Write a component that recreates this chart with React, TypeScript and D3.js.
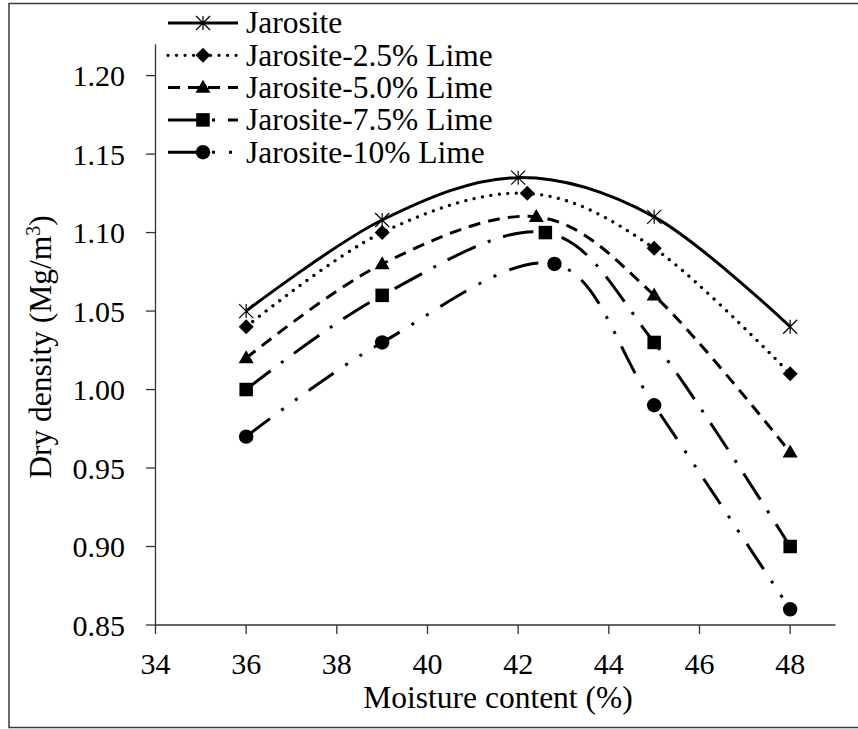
import React from "react";
import * as d3 from "d3";

const seriesNames = [
  "Jarosite",
  "Jarosite-2.5% Lime",
  "Jarosite-5.0% Lime",
  "Jarosite-7.5% Lime",
  "Jarosite-10% Lime",
];
const moistureJ = [36, 39, 42, 45, 48];
const densityJ = [1.05, 1.108, 1.135, 1.11, 1.04];
const moisture25 = [36, 39, 42.2, 45, 48];
const density25 = [1.04, 1.1, 1.125, 1.09, 1.01];
const moisture50 = [36, 39, 42.4, 45, 48];
const density50 = [1.02, 1.08, 1.11, 1.06, 0.96];
const moisture75 = [36, 39, 42.6, 45, 48];
const density75 = [1.0, 1.06, 1.1, 1.03, 0.9];
const moisture10 = [36, 39, 42.8, 45, 48];
const density10 = [0.97, 1.03, 1.08, 0.99, 0.86];

const xTicks = [34, 36, 38, 40, 42, 44, 46, 48];
const yTicks = [0.85, 0.9, 0.95, 1.0, 1.05, 1.1, 1.15, 1.2];

const seriesX = [moistureJ, moisture25, moisture50, moisture75, moisture10];
const seriesY = [densityJ, density25, density50, density75, density10];

const markerTypes = ["asterisk", "diamond", "triangle", "square", "circle"];
const dashes = ["none", "0.01 8.5", "12 8", "31 13 3 13", "30 14 3 14 3 14"];
const caps = ["butt", "round", "butt", "butt", "butt"];

const FONT = "Liberation Serif, Times New Roman, serif";

function Marker({ type, x, y }: { type: string; x: number; y: number }) {
  if (type === "asterisk") {
    const r = 7;
    return (
      <path
        d={`M${x},${y - r}L${x},${y + r}M${x - r},${y - r}L${x + r},${y + r}M${x - r},${y + r}L${x + r},${y - r}`}
        stroke="#000"
        strokeWidth={1.2}
        fill="none"
      />
    );
  }
  if (type === "diamond") {
    const r = 7.5;
    return <path d={`M${x},${y - r}L${x + r},${y}L${x},${y + r}L${x - r},${y}Z`} fill="#000" />;
  }
  if (type === "triangle") {
    const h = 13;
    const w = 15;
    return (
      <path
        d={`M${x},${y - h * 0.6}L${x + w / 2},${y + h * 0.4}L${x - w / 2},${y + h * 0.4}Z`}
        fill="#000"
      />
    );
  }
  if (type === "square") {
    const s = 13.5;
    return <rect x={x - s / 2} y={y - s / 2} width={s} height={s} fill="#000" />;
  }
  return <circle cx={x} cy={y} r={7.2} fill="#000" />;
}

export default function App() {
  const W = 858;
  const H = 729;
  const x = d3.scaleLinear().domain([34, 49]).range([155.5, 835.5]);
  const y = d3.scaleLinear().domain([0.85, 1.22]).range([625, 44.2]);

  const line = d3
    .line<[number, number]>()
    .x((d) => x(d[0]))
    .y((d) => y(d[1]))
    .curve(d3.curveCardinal.tension(0));

  const legendY = (i: number) => 23 + i * 32.3;

  return (
    <svg
      width={W}
      height={H}
      style={{ position: "absolute", left: 0, top: 0, background: "#fff" }}
      fontFamily={FONT}
    >
      <rect x={0} y={0} width={W} height={H} fill="#fff" />
      <rect x={9} y={3.5} width={900} height={724} fill="none" stroke="#3a3a3a" strokeWidth={1.5} />

      {/* axes */}
      <line x1={155.5} y1={y(1.22)} x2={155.5} y2={625} stroke="#333" strokeWidth={1.3} />
      <line x1={155.5} y1={625} x2={835.5} y2={625} stroke="#333" strokeWidth={1.3} />
      {yTicks.map((t) => (
        <g key={"y" + t}>
          <line x1={146} x2={155.5} y1={y(t)} y2={y(t)} stroke="#333" strokeWidth={1.3} />
          <text x={125} y={y(t)} dy="0.35em" textAnchor="end" fontSize={30} fill="#000" fontFamily={FONT}>
            {t.toFixed(2)}
          </text>
        </g>
      ))}
      {xTicks.map((t) => (
        <g key={"x" + t}>
          <line x1={x(t)} x2={x(t)} y1={625} y2={634} stroke="#333" strokeWidth={1.3} />
          <text x={x(t)} y={674} textAnchor="middle" fontSize={30} fill="#000" fontFamily={FONT}>
            {t}
          </text>
        </g>
      ))}
      <text x={498} y={708} textAnchor="middle" fontSize={31.5} fill="#000" fontFamily={FONT}>
        Moisture content (%)
      </text>
      <text
        transform="translate(51,347) rotate(-90)"
        textAnchor="middle"
        fontSize={31.5}
        fill="#000"
        fontFamily={FONT}
      >
        Dry density (Mg/m
        <tspan dy={-11} fontSize={20}>3</tspan>
        <tspan dy={11}>)</tspan>
      </text>

      {/* series */}
      {seriesNames.map((name, i) => {
        const pts: [number, number][] = seriesX[i].map((v, j) => [v, seriesY[i][j]]);
        return (
          <g key={name}>
            <path
              d={line(pts) || ""}
              fill="none"
              stroke="#000"
              strokeWidth={i === 1 ? 3.3 : 3}
              strokeDasharray={dashes[i]}
              strokeLinecap={caps[i] as any}
            />
            {pts.map((p, j) => (
              <Marker key={j} type={markerTypes[i]} x={x(p[0])} y={y(p[1])} />
            ))}
          </g>
        );
      })}

      {/* legend */}
      {seriesNames.map((name, i) => (
        <g key={"lg" + name}>
          <line
            x1={168}
            x2={238}
            y1={legendY(i)}
            y2={legendY(i)}
            stroke="#000"
            strokeWidth={i === 1 ? 3.3 : 3}
            strokeDasharray={dashes[i]}
            strokeLinecap={caps[i] as any}
          />
          <Marker type={markerTypes[i]} x={203} y={legendY(i)} />
          <text x={246} y={legendY(i)} dy="0.33em" fontSize={31.5} fill="#000" fontFamily={FONT}>
            {name}
          </text>
        </g>
      ))}
    </svg>
  );
}
